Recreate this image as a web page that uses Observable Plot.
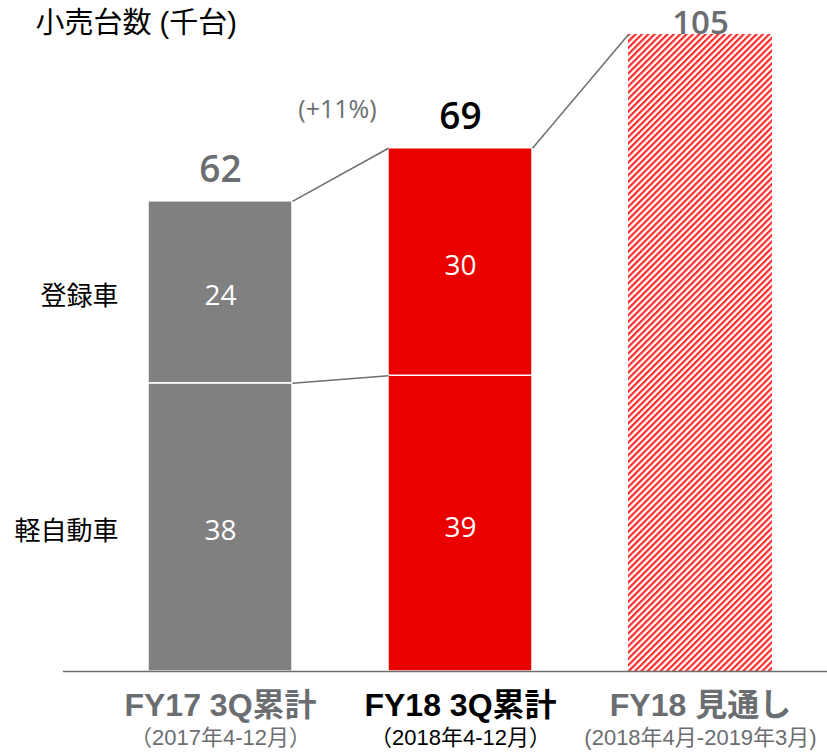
<!DOCTYPE html>
<html><head><meta charset="utf-8">
<script src="https://cdn.jsdelivr.net/npm/d3@7"></script>
<script src="https://cdn.jsdelivr.net/npm/@observablehq/plot@0.6"></script>
<style>body{margin:0;background:#fff}</style>
</head><body><div id="chart"></div>
<script>
const categories = ["FY17 3Q累計", "FY18 3Q累計", "FY18 見通し"];
const periods = ["（2017年4-12月）", "（2018年4-12月）", "(2018年4月-2019年3月)"];
const keiValues = [38, 39, null];
const registeredValues = [24, 30, null];
const totals = [62, 69, 105];
const growthLabel = "(+11%)";
const title = "小売台数 (千台)";

const gray = "#808080", red = "#eb0000", textGray = "#6b6e71";
const idx = categories.map((_, i) => i);
const half = 0.3;
const yMax = 84; // visible top of the plot frame (forecast bar is clipped)

const segs = [];
idx.forEach(i => {
  if (keiValues[i] == null) return;
  segs.push({i, seg: "軽自動車", y1: 0, y2: keiValues[i], v: keiValues[i]});
  segs.push({i, seg: "登録車", y1: keiValues[i], y2: keiValues[i] + registeredValues[i], v: registeredValues[i]});
});
const forecast = [{i: 2, y1: 0, y2: totals[2]}];
const barFill = i => i === 0 ? gray : red;

const links = [
  {x1: 0 + half, y1: totals[0], x2: 1 - half, y2: totals[1]},
  {x1: 0 + half, y1: keiValues[0], x2: 1 - half, y2: keiValues[1]},
  {x1: 1 + half, y1: totals[1], x2: 2 - half, y2: Math.min(totals[2], yMax)}
];

const cjk = "'Liberation Sans', Arial, 'Noto Sans CJK JP', sans-serif";
const num = "'Open Sans', 'Noto Sans', sans-serif";

const plot = Plot.plot({
  width: 827, height: 752,
  marginTop: 34, marginBottom: 81, marginLeft: 63, marginRight: 0,
  style: {fontFamily: cjk, background: "#fff"},
  x: {type: "linear", domain: [0, 2], range: [220, 700], axis: null},
  y: {domain: [0, yMax], range: [671, 34], axis: null},
  marks: [
    Plot.rect(forecast, {x1: d => d.i - half, x2: d => d.i + half, y1: "y1", y2: "y2", fill: "url(#hatch)", clip: true}),
    Plot.rect(segs, {x1: d => d.i - half, x2: d => d.i + half, y1: "y1", y2: "y2", fill: d => barFill(d.i), stroke: "#fff", strokeWidth: 1.5}),
    Plot.link(links, {x1: "x1", y1: "y1", x2: "x2", y2: "y2", stroke: "#6e6e6e", strokeWidth: 1.5}),
    Plot.ruleY([0], {stroke: "#6e6e6e", strokeWidth: 1.5}),
    Plot.text(segs, {x: "i", y: d => (d.y1 + d.y2) / 2, text: d => String(d.v), dy: 4, fill: "#fff", fontSize: 28, fontWeight: 400, fontFamily: num}),
    Plot.text(idx.slice(0, 2), {x: i => i, y: i => totals[i], text: i => String(totals[i]), dy: -31, fontSize: 37, fontWeight: 600, fontFamily: num, fill: i => i === 1 ? "#000" : textGray}),
    Plot.text([2], {x: i => i, y: yMax, text: i => String(totals[i]), dy: -11, fontSize: 33, fontWeight: 600, fontFamily: num, fill: textGray}),
    Plot.text([growthLabel], {x: 0.5, y: totals[1], text: d => d, dy: -38, dx: -3, fontSize: 25, fontWeight: 400, fontFamily: num, fill: textGray}),
    Plot.text(segs.filter(d => d.i === 0), {frameAnchor: "left", y: d => (d.y1 + d.y2) / 2, text: "seg", dy: 4, textAnchor: "end", dx: 55, fontSize: 26, fill: "#000"}),
    Plot.text([title], {frameAnchor: "top-left", text: d => d, dx: -28, dy: -22, fontSize: 29, fill: "#000", textAnchor: "start"}),
    Plot.text(idx, {x: i => i, frameAnchor: "bottom", text: i => categories[i], dy: 44, fontSize: 32, fontWeight: "bold", fill: i => i === 1 ? "#000" : textGray}),
    Plot.text(idx, {x: i => i, frameAnchor: "bottom", text: i => periods[i], dy: 73, fontSize: 22, fill: i => i === 1 ? "#000" : textGray})
  ]
});

const svg = d3.select(plot);
const defs = svg.insert("defs", ":first-child");
const pat = defs.append("pattern").attr("id", "hatch").attr("patternUnits", "userSpaceOnUse")
  .attr("width", 4.5).attr("height", 4.5).attr("patternTransform", "rotate(45)");
pat.append("rect").attr("width", 4.5).attr("height", 4.5).attr("fill", "#fff");
pat.append("rect").attr("x", 0).attr("width", 2.2).attr("height", 4.5).attr("fill", "#ff2a2a");
document.getElementById("chart").append(plot);
</script>
</body></html>
